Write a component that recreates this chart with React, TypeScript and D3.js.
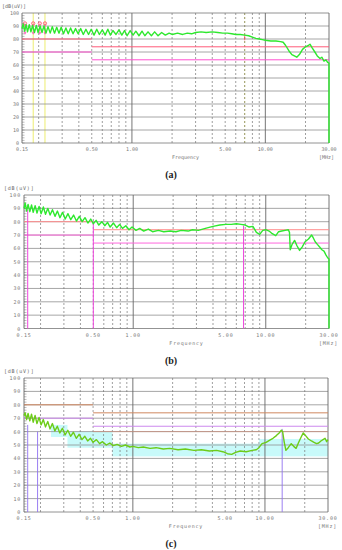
import React from 'react';
import * as d3 from 'd3';

// EMI scans: frequency in MHz, level in dB(uV)
const yTicks = [0, 10, 20, 30, 40, 50, 60, 70, 80, 90, 100];
const xTickLabels = ['0.15', '0.50', '1.00', '5.00', '10.00', '30.00'];
const xTickFreqs = [0.15, 0.5, 1, 5, 10, 30];
const minorFreqs = [0.2, 0.3, 0.4, 0.5, 0.6, 0.7, 0.8, 0.9, 2, 3, 4, 5, 6, 7, 8, 9, 20];
const majorFreqs = [1, 10];

const traceA: [number, number][] = [
  [0.15, 88], [0.153, 91.5], [0.157, 86], [0.161, 91], [0.165, 85.5], [0.17, 91], [0.175, 85.5],
  [0.18, 90.5], [0.186, 85], [0.192, 90.5], [0.198, 85], [0.205, 90], [0.212, 85], [0.219, 90],
  [0.227, 84.5], [0.235, 89.5], [0.244, 84.5], [0.253, 89.5], [0.263, 84.5], [0.273, 89],
  [0.284, 84.5], [0.295, 89], [0.307, 84], [0.32, 88.5], [0.333, 84], [0.347, 88.5], [0.362, 84],
  [0.378, 88], [0.395, 84], [0.413, 88], [0.432, 83.5], [0.452, 87.5], [0.473, 83.5], [0.495, 87.5],
  [0.52, 83], [0.545, 87.5], [0.57, 83.5], [0.6, 87], [0.63, 83], [0.66, 87.5], [0.69, 83],
  [0.72, 86.5], [0.76, 83.5], [0.8, 87], [0.84, 83], [0.88, 86.5], [0.92, 82.5], [0.97, 86.5],
  [1.02, 83], [1.07, 86], [1.13, 82.5], [1.19, 86], [1.25, 82.5], [1.32, 85.5], [1.4, 82.5],
  [1.48, 85.5], [1.57, 82.5], [1.67, 85], [1.78, 83], [1.9, 84.5], [2.0, 83.5], [2.2, 84.5],
  [2.4, 83.5], [2.6, 84.5], [2.8, 84], [3.0, 85], [3.3, 85.5], [3.6, 85], [4.0, 85.5], [4.4, 85],
  [4.8, 84.5], [5.2, 84.5], [5.6, 84], [6.0, 83.5], [6.5, 83.5], [7.0, 83], [7.5, 82.5], [8.0, 81.5],
  [8.5, 80.5], [9.0, 80], [9.5, 79.5], [10, 79], [11, 78.5], [12, 78.5], [13, 78], [13.6, 77.5],
  [14.2, 75], [15, 71], [15.8, 68], [16.5, 67], [17.2, 66], [18, 68], [19, 72], [20, 74], [21, 75],
  [21.6, 76], [22.5, 73], [23.5, 70], [24.5, 67], [25.7, 65], [26.5, 66], [27.5, 63], [28.5, 64],
  [29.3, 62], [30, 61.5], [30, 0],
];

const traceB: [number, number][] = [
  [0.15, 90], [0.153, 94], [0.157, 88], [0.161, 93], [0.166, 87.5], [0.171, 92.5], [0.176, 87],
  [0.182, 92], [0.188, 86.5], [0.195, 91.5], [0.202, 86], [0.21, 91], [0.218, 85.5], [0.227, 90],
  [0.236, 85], [0.246, 89], [0.257, 84], [0.268, 88], [0.28, 83], [0.293, 87], [0.307, 82],
  [0.322, 86], [0.338, 81.5], [0.355, 85], [0.373, 80.5], [0.392, 84], [0.412, 80], [0.433, 83],
  [0.455, 79], [0.478, 82], [0.5, 78.5], [0.525, 81], [0.55, 77.5], [0.58, 80], [0.61, 77],
  [0.64, 79.5], [0.67, 76], [0.71, 79], [0.75, 75.5], [0.79, 78], [0.83, 75], [0.88, 77], [0.93, 74],
  [0.98, 76], [1.05, 73.5], [1.12, 75], [1.2, 73], [1.3, 74.5], [1.4, 72.5], [1.55, 73.5],
  [1.7, 72.5], [1.9, 73], [2.1, 72.5], [2.3, 73.5], [2.6, 73], [2.8, 74], [3.1, 73.5], [3.5, 75],
  [4.0, 76.5], [4.5, 77.5], [5.0, 78], [5.5, 78], [6.0, 78.5], [6.5, 78], [7.0, 77.5], [7.5, 76],
  [8.0, 76.5], [8.5, 72], [9.0, 70.5], [9.5, 73.5], [10.0, 74], [10.6, 73], [11.2, 71], [11.9, 69.5],
  [12.5, 72.5], [13.2, 73], [14, 73.5], [14.8, 74], [15.1, 72], [15.3, 59], [15.8, 63], [16.5, 66],
  [17.2, 62], [18.0, 58.5], [18.8, 61], [19.8, 65], [21, 67], [22.2, 70], [22.8, 68], [23.6, 65],
  [24.5, 63], [25.5, 61], [26.5, 59], [27.5, 58], [28.5, 55], [29.3, 53], [30, 52], [30, 0],
];

const traceC: [number, number][] = [
  [0.15, 72], [0.153, 74], [0.157, 69], [0.161, 73.5], [0.166, 68], [0.171, 73], [0.176, 67],
  [0.182, 72], [0.188, 66], [0.195, 70.5], [0.202, 65], [0.21, 69], [0.218, 63.5], [0.227, 67.5],
  [0.236, 62], [0.246, 66], [0.257, 60.5], [0.268, 64], [0.28, 59], [0.293, 62.5], [0.307, 57.5],
  [0.322, 61], [0.338, 56.5], [0.355, 59.5], [0.373, 55], [0.392, 58], [0.412, 54], [0.433, 56.5],
  [0.455, 53], [0.478, 55], [0.5, 52], [0.53, 54], [0.56, 51], [0.59, 52.5], [0.63, 50], [0.67, 51.5],
  [0.71, 49.5], [0.76, 50.5], [0.82, 49], [0.88, 50], [0.95, 48.5], [1.0, 49], [1.1, 48], [1.2, 48.5],
  [1.35, 47.5], [1.5, 48], [1.7, 47], [1.9, 47.5], [2.2, 46.5], [2.5, 47], [2.9, 46], [3.3, 46.5],
  [3.8, 45.5], [4.3, 46], [4.8, 45], [5.2, 43.5], [5.6, 43], [6.0, 44.5], [6.5, 45.5], [7.2, 45],
  [8.0, 46], [8.6, 46.5], [9.0, 48], [9.5, 51], [10.2, 52], [10.8, 53.5], [11.5, 55], [12.2, 57],
  [12.8, 59], [13.3, 61], [13.6, 60], [14.0, 52], [14.4, 46], [15.0, 48], [15.8, 51], [16.5, 49],
  [17.2, 47.5], [18.0, 52], [18.8, 56], [19.5, 59], [20.3, 57], [21.3, 54.5], [22.5, 53], [23.5, 52],
  [24.6, 51], [25.5, 51.5], [26.5, 53], [27.5, 54], [28.5, 55], [29.3, 52.5], [30, 54],
];

// cyan band in (c): [f0, f1, top, bottom]
const bandC: [number, number, number, number][] = [
  [0.24, 0.32, 65, 56],
  [0.32, 0.7, 60, 48],
  [0.7, 9, 51, 41.5],
  [9, 30, 54.5, 41.5],
];

// limit lines: [f0, f1, level]
const redLimits: [number, number, number][] = [[0.15, 0.5, 80], [0.5, 30, 74]];
const magLimits: [number, number, number][] = [[0.15, 0.5, 70], [0.5, 30, 64]];

// markers (a)
const markerFreqsA = [0.158, 0.182, 0.204, 0.223];
const markerPeakA = [92, 92, 92, 92];
const markerAvgA = [84.5, 84.5, 84.5, 84.5];
const yellowFreqsA = [0.182, 0.223, 7.0];
// verticals (b), (c)
const magVertB: [number, number][] = [[0.16, 89], [0.5, 80], [6.8, 77]];
const purpleVertC: [number, number][] = [[0.16, 65], [0.19, 60], [13.5, 62]];

interface PanelProps {
  left: number; right: number; top: number; bottom: number;
  trace: [number, number][];
  traceColor: string;
  red: string; mag: string;
  spacing: number;
  caption: string;
  children?: (x: d3.ScaleLogarithmic<number, number>, y: d3.ScaleLinear<number, number>) => React.ReactNode;
  under?: (x: d3.ScaleLogarithmic<number, number>, y: d3.ScaleLinear<number, number>) => React.ReactNode;
}

const mono = '"DejaVu Sans Mono", monospace';

const Panel: React.FC<PanelProps> = (p) => {
  const x = d3.scaleLog().domain([0.15, 30]).range([p.left, p.right]);
  const y = d3.scaleLinear().domain([0, 100]).range([p.bottom, p.top]);
  const line = d3.line<[number, number]>().x(d => x(d[0])).y(d => y(d[1]));
  const minorY = d3.range(0, 100, 2);
  return (
    <g>
      <text x={p.left - 20} y={p.top - 5} fontSize={5} fontFamily={mono} fill="#666" letterSpacing={p.spacing}>[dB(uV)]</text>
      {p.under && p.under(x, y)}
      {yTicks.map(t => (
        <g key={t}>
          <line x1={p.left} x2={p.right} y1={y(t)} y2={y(t)} stroke={t === 0 || t === 100 ? '#777' : '#8f8f8f'} strokeWidth={0.8} />
          <text x={p.left - 3} y={y(t) + 2} fontSize={5} fontFamily={mono} fill="#777" textAnchor="end" letterSpacing={p.spacing}>{t}</text>
        </g>
      ))}
      {minorY.map(t => (
        <line key={'m' + t} x1={p.left} x2={p.left + 2.5} y1={y(t)} y2={y(t)} stroke="#777" strokeWidth={0.5} />
      ))}
      {minorFreqs.map(f => (
        <line key={f} x1={x(f)} x2={x(f)} y1={p.top} y2={p.bottom} stroke="#777" strokeWidth={0.7} strokeDasharray="2,2" />
      ))}
      {majorFreqs.map(f => (
        <line key={f} x1={x(f)} x2={x(f)} y1={p.top} y2={p.bottom} stroke="#666" strokeWidth={0.9} />
      ))}
      <line x1={p.left} x2={p.left} y1={p.top} y2={p.bottom} stroke="#666" strokeWidth={0.9} />
      <line x1={p.right} x2={p.right} y1={p.top} y2={p.bottom} stroke="#666" strokeWidth={0.9} />
      {redLimits.map((l, i) => (
        <line key={'r' + i} x1={x(l[0])} x2={x(l[1])} y1={y(l[2])} y2={y(l[2])} stroke={p.red} strokeWidth={1} />
      ))}
      {magLimits.map((l, i) => (
        <line key={'g' + i} x1={x(l[0])} x2={x(l[1])} y1={y(l[2])} y2={y(l[2])} stroke={p.mag} strokeWidth={1} />
      ))}
      {p.children && p.children(x, y)}
      <path d={line(p.trace) || ''} fill="none" stroke={p.traceColor} strokeWidth={1.4} strokeLinejoin="round" />
      {xTickFreqs.map((f, i) => (
        <text key={f} x={x(f)} y={p.bottom + 8} fontSize={5} fontFamily={mono} fill="#777" textAnchor="middle" letterSpacing={p.spacing}>{xTickLabels[i]}</text>
      ))}
      <text x={(p.left + p.right) / 2 + 10} y={p.bottom + 16} fontSize={5} fontFamily={mono} fill="#777" textAnchor="middle" letterSpacing={p.spacing}>Frequency</text>
      <text x={p.right - 10} y={p.bottom + 16} fontSize={5} fontFamily={mono} fill="#777" letterSpacing={p.spacing}>[MHz]</text>
      <text x={171} y={p.bottom + 35} fontSize={10} fontFamily='"Liberation Serif", serif' fontWeight="bold" fill="#222" textAnchor="middle">{p.caption}</text>
    </g>
  );
};

const App: React.FC = () => {
  return (
    <svg width={342} height={550} style={{ position: 'absolute', left: 0, top: 0, background: '#fff' }}>
      <Panel left={22} right={329} top={13} bottom={143} trace={traceA} traceColor="#2ee82e" red="#ff5a78" mag="#ff50d0" spacing={0} caption="(a)"
        under={(x, y) => yellowFreqsA.map(f => (
          <line key={f} x1={x(f)} x2={x(f)} y1={y(100)} y2={y(0)} stroke="#eded70" strokeWidth={1} strokeDasharray={f > 1 ? '2,2' : undefined} />
        ))}>
        {(x, y) => (
          <g>
            {markerFreqsA.map((f, i) => (
              <g key={f}>
                <line x1={x(f)} x2={x(f)} y1={y(markerPeakA[i])} y2={y(markerAvgA[i])} stroke="#ff60a0" strokeWidth={0.8} />
                <circle cx={x(f)} cy={y(markerPeakA[i])} r={1.6} fill="none" stroke="#ff4060" strokeWidth={0.8} />
                <path d={`M${x(f) - 1.5},${y(markerAvgA[i]) - 1}L${x(f) + 1.5},${y(markerAvgA[i]) - 1}L${x(f)},${y(markerAvgA[i]) + 1.5}Z`} fill="#ff60c0" />
              </g>
            ))}
            <line x1={x(7.0)} x2={x(7.0)} y1={y(83)} y2={y(79)} stroke="#ff4060" strokeWidth={0.8} />
          </g>
        )}
      </Panel>
      <Panel left={24} right={329} top={195} bottom={328.5} trace={traceB} traceColor="#2ee82e" red="#ff8c8c" mag="#ff66dd" spacing={0.8} caption="(b)">
        {(x, y) => magVertB.map(([f, v]) => (
          <line key={f} x1={x(f)} x2={x(f)} y1={y(v)} y2={y(0)} stroke="#ee44dd" strokeWidth={1} />
        ))}
      </Panel>
      <Panel left={24} right={328} top={378} bottom={512} trace={traceC} traceColor="#6ccc18" red="#d08860" mag="#cc88ee" spacing={0.8} caption="(c)"
        under={(x, y) => bandC.map(([f0, f1, t, b]) => (
          <rect key={f0} x={x(f0)} y={y(t)} width={x(f1) - x(f0)} height={y(b) - y(t)} fill="#c8fafa" />
        ))}>
        {(x, y) => (
          <g>
            <line x1={x(0.5)} x2={x(30)} y1={y(60)} y2={y(60)} stroke="#c89080" strokeWidth={0.8} />
            {purpleVertC.map(([f, v]) => (
              <line key={f} x1={x(f)} x2={x(f)} y1={y(v)} y2={y(0)} stroke="#9070f0" strokeWidth={0.9} />
            ))}
          </g>
        )}
      </Panel>
    </svg>
  );
};

export default App;
